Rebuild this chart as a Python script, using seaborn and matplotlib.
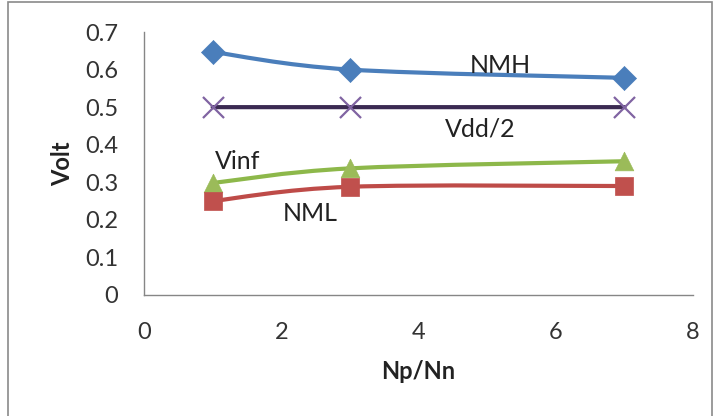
import matplotlib
matplotlib.use("Agg")
import matplotlib.pyplot as plt
import seaborn as sns
import pandas as pd
import numpy as np
from matplotlib.path import Path
from matplotlib.patches import PathPatch, Rectangle

# datos
np_nn = [1, 3, 7]
nmh = [0.647, 0.600, 0.578]
vdd2 = [0.5, 0.5, 0.5]
vinf = [0.298, 0.337, 0.356]
nml = [0.250, 0.288, 0.290]

series = ['NMH', 'Vdd/2', 'Vinf', 'NML']
valores = [nmh, vdd2, vinf, nml]

colores_linea = {'NMH': '#4A7EBB', 'Vdd/2': '#3B2A52', 'Vinf': '#8DB84A', 'NML': '#BE4B48'}
colores_marca = {'NMH': '#4A7EBB', 'Vdd/2': '#8064A2', 'Vinf': '#9BBB59', 'NML': '#C0504D'}
marcas = {'NMH': 'D', 'Vdd/2': 'x', 'Vinf': '^', 'NML': 's'}
tamanos = {'NMH': 150, 'Vdd/2': 230, 'Vinf': 180, 'NML': 150}

df = pd.concat([pd.DataFrame({'Np/Nn': np_nn, 'Volt': v, 'serie': s})
                for s, v in zip(series, valores)], ignore_index=True)

sns.set_style('white')
plt.rcParams['font.family'] = ['Lato', 'DejaVu Sans']

fig = plt.figure(figsize=(7.15, 4.16), dpi=100)
ax = fig.add_axes([0.2014, 0.291, 0.768, 0.632])


def curva_suave(x, y):
    # suavizado estilo Excel (bezier tipo Catmull-Rom)
    pts = np.column_stack([x, y]).astype(float)
    verts = [pts[0]]
    codes = [Path.MOVETO]
    n = len(pts)
    for i in range(n - 1):
        p0 = pts[max(i - 1, 0)]
        p1 = pts[i]
        p2 = pts[i + 1]
        p3 = pts[min(i + 2, n - 1)]
        c1 = p1 + (p2 - p0) / 6
        c2 = p2 - (p3 - p1) / 6
        verts += [c1, c2, p2]
        codes += [Path.CURVE4] * 3
    return Path(verts, codes)


for s in series:
    sub = df[df['serie'] == s]
    ax.add_patch(PathPatch(curva_suave(sub['Np/Nn'], sub['Volt']), fill=False,
                           edgecolor=colores_linea[s], lw=3, zorder=2,
                           capstyle='round'))

for s in series:
    sub = df[df['serie'] == s]
    if marcas[s] == 'x':
        sns.scatterplot(data=sub, x='Np/Nn', y='Volt', marker='x', s=tamanos[s],
                        color=colores_marca[s], linewidth=1.6, ax=ax, zorder=3)
    else:
        sns.scatterplot(data=sub, x='Np/Nn', y='Volt', marker=marcas[s], s=tamanos[s],
                        color=colores_marca[s], edgecolor=colores_marca[s],
                        linewidth=0.5, ax=ax, zorder=3)

ax.set_xlim(0, 8)
ax.set_ylim(0, 0.7)
ax.set_xticks([0, 2, 4, 6, 8])
ax.set_yticks(np.arange(0, 0.71, 0.1))
ax.set_yticklabels(['0', '0.1', '0.2', '0.3', '0.4', '0.5', '0.6', '0.7'])
for lado in ['top', 'right']:
    ax.spines[lado].set_visible(False)
for lado in ['left', 'bottom']:
    ax.spines[lado].set_color('#868686')
    ax.spines[lado].set_linewidth(1)
ax.tick_params(axis='both', which='major', direction='out', length=7.5, width=1,
               color='#868686', labelsize=17, labelcolor='#333333')
ax.tick_params(axis='y', pad=11)
ax.tick_params(axis='x', pad=12)

ax.set_xlabel('Np/Nn', fontsize=17, fontweight='bold', labelpad=12, color='#222222')
ax.set_ylabel('Volt', fontsize=17, fontweight='bold', labelpad=8, color='#222222')

# etiquetas de las series
ax.text(5.19, 0.61, 'NMH', fontsize=18, ha='center', va='center', color='#222222')
ax.text(4.9, 0.443, 'Vdd/2', fontsize=18, ha='center', va='center', color='#222222')
ax.text(1.37, 0.355, 'Vinf', fontsize=18, ha='center', va='center', color='#222222')
ax.text(2.42, 0.217, 'NML', fontsize=18, ha='center', va='center', color='#222222')

# marco de la figura
fig.patches.append(Rectangle((8 / 715, -0.01), 704 / 715, 1 - 2 / 416 + 0.01,
                             transform=fig.transFigure, fill=False,
                             edgecolor='#8a8a8a', lw=1.2))

fig.savefig('out.png', dpi=100)
